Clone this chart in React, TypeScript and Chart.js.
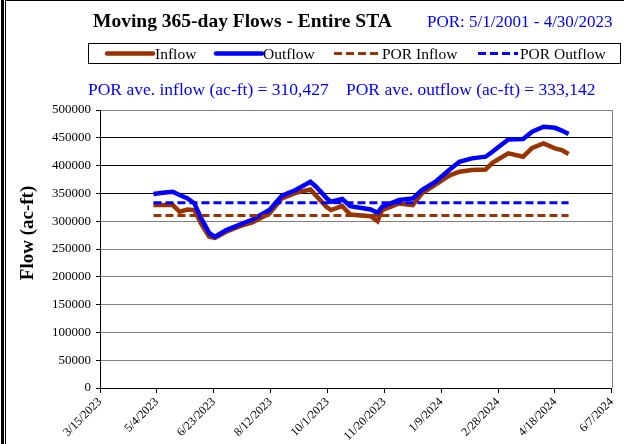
import { useEffect, useRef } from "react";
import { Chart, registerables } from "chart.js";

Chart.register(...registerables);

// ---- data ----
const dates = [
  "5/1/2023", "5/9/2023", "5/18/2023", "5/24/2023", "5/31/2023", "6/6/2023", "6/12/2023",
  "6/19/2023", "6/24/2023", "7/4/2023", "7/16/2023", "7/27/2023", "8/11/2023", "8/22/2023",
  "9/3/2023", "9/16/2023", "9/21/2023", "9/30/2023", "10/4/2023", "10/14/2023", "10/21/2023",
  "11/8/2023", "11/14/2023", "11/18/2023", "12/3/2023", "12/15/2023", "12/23/2023",
  "1/4/2024", "1/16/2024", "1/25/2024", "2/5/2024", "2/17/2024", "2/23/2024", "3/8/2024",
  "3/21/2024", "3/29/2024", "4/8/2024", "4/18/2024", "4/24/2024", "4/30/2024",
];
const inflow = [
  329000, 329000, 329000, 317000, 321000, 320000, 295000,
  272000, 270000, 281000, 291000, 298000, 314000, 341000,
  351000, 357000, 346000, 326000, 320000, 327000, 312000,
  309000, 300000, 320000, 332000, 329000, 350000,
  366000, 382000, 389000, 392000, 393000, 405000, 422000,
  416000, 432000, 440000, 431000, 428000, 421000,
];
const outflow = [
  349000, 351000, 353000, 347000, 341000, 332000, 305000,
  279000, 272000, 284000, 294000, 303000, 320000, 346000,
  356000, 371000, 362000, 342000, 335000, 340000, 327000,
  321000, 315000, 326000, 338000, 341000, 356000,
  371000, 392000, 407000, 413000, 416000, 425000, 447000,
  448000, 461000, 470000, 468000, 463000, 457000,
];
const porDates = ["5/1/2023", "4/30/2024"];
const porInflow = 310427;
const porOutflow = 333142;

const xStartDate = "3/15/2023";
const xStepDays = 50;
const xSteps = 9;
const yMax = 500000;
const yStep = 50000;

const titleText = "Moving 365-day Flows - Entire STA";
const porText = "POR: 5/1/2001 - 4/30/2023";
const subInflow = "POR ave. inflow (ac-ft) = 310,427";
const subOutflow = "POR ave. outflow (ac-ft) = 333,142";
const yTitle = "Flow (ac-ft)";

const BROWN = "#993300";
const BLUE = "#0000FF";
const SERIF = "'Liberation Serif', 'Times New Roman', serif";

function parseDate(s: string) {
  const [m, d, y] = s.split("/").map(Number);
  return Date.UTC(y, m - 1, d);
}
const origin = parseDate(xStartDate);
const DAY = 86400000;
const dayOf = (s: string) => Math.round((parseDate(s) - origin) / DAY);
const dayLabel = (v: number) => {
  const dt = new Date(origin + v * DAY);
  return `${dt.getUTCMonth() + 1}/${dt.getUTCDate()}/${dt.getUTCFullYear()}`;
};

const decorPlugin = {
  id: "decor",
  beforeDraw(chart: any) {
    const ctx = chart.ctx;
    ctx.save();
    ctx.fillStyle = "#fff";
    ctx.fillRect(0, 0, chart.width, chart.height);
    ctx.restore();
  },
  afterDraw(chart: any) {
    const ctx = chart.ctx;
    const area = chart.chartArea;
    ctx.save();
    // right border of plot area
    ctx.strokeStyle = "#808080";
    ctx.lineWidth = 1;
    ctx.beginPath();
    ctx.moveTo(Math.round(area.right) + 0.5, area.top);
    ctx.lineTo(Math.round(area.right) + 0.5, area.bottom);
    ctx.stroke();

    // outer frame
    ctx.fillStyle = "#000";
    ctx.fillRect(1, 0, 3, chart.height);
    ctx.fillRect(5, 0, 1, chart.height);
    ctx.fillRect(5, 0, chart.width, 1);

    // title
    ctx.textBaseline = "alphabetic";
    ctx.textAlign = "left";
    ctx.fillStyle = "#000";
    ctx.font = `bold 19.5px ${SERIF}`;
    ctx.fillText(titleText, 93, 27);
    ctx.fillStyle = BLUE;
    ctx.font = `17px ${SERIF}`;
    ctx.fillText(porText, 427, 27);

    // legend box
    ctx.strokeStyle = "#000";
    ctx.lineWidth = 1;
    ctx.strokeRect(88.5, 43.5, 532, 20);
    const items = [
      { x0: 107, x1: 153, tx: 155 },
      { x0: 216, x1: 262, tx: 263 },
      { x0: 334, x1: 378, tx: 382 },
      { x0: 478, x1: 518, tx: 520 },
    ];
    const ds = chart.data.datasets;
    ctx.font = `15.5px ${SERIF}`;
    items.forEach((it, i) => {
      const d = ds[i];
      ctx.save();
      ctx.strokeStyle = d.borderColor;
      ctx.lineWidth = d.borderDash ? 3 : 4.5;
      ctx.setLineDash(d.borderDash || []);
      ctx.lineCap = d.borderDash ? "butt" : "round";
      ctx.beginPath();
      ctx.moveTo(it.x0, 53.5);
      ctx.lineTo(it.x1, 53.5);
      ctx.stroke();
      ctx.restore();
      ctx.fillStyle = "#000";
      ctx.fillText(d.label, it.tx, 59);
    });

    // subtitle
    ctx.fillStyle = BLUE;
    ctx.font = `17.5px ${SERIF}`;
    ctx.fillText(subInflow, 88, 95);
    ctx.fillText(subOutflow, 346, 95);

    // y axis title
    ctx.save();
    ctx.translate(33, 233);
    ctx.rotate(-Math.PI / 2);
    ctx.textAlign = "center";
    ctx.fillStyle = "#000";
    ctx.font = `bold 19px ${SERIF}`;
    ctx.fillText(yTitle, 0, 0);
    ctx.restore();

    ctx.restore();
  },
};

export default function App() {
  const ref = useRef<HTMLCanvasElement | null>(null);
  useEffect(() => {
    if (!ref.current) return;
    const toPts = (vals: number[]) => dates.map((d, i) => ({ x: dayOf(d), y: vals[i] }));
    const porPts = (v: number) => porDates.map((d) => ({ x: dayOf(d), y: v }));
    const chart = new Chart(ref.current, {
      type: "line",
      data: {
        datasets: [
          {
            label: "Inflow",
            data: toPts(inflow),
            borderColor: BROWN,
            backgroundColor: BROWN,
            borderWidth: 4.5,
            pointRadius: 0,
            tension: 0,
            order: 3,
          },
          {
            label: "Outflow",
            data: toPts(outflow),
            borderColor: BLUE,
            backgroundColor: BLUE,
            borderWidth: 4.5,
            pointRadius: 0,
            tension: 0,
            order: 2,
          },
          {
            label: "POR Inflow",
            data: porPts(porInflow),
            borderColor: BROWN,
            backgroundColor: BROWN,
            borderWidth: 3,
            borderDash: [8, 4],
            pointRadius: 0,
            order: 1,
          },
          {
            label: "POR Outflow",
            data: porPts(porOutflow),
            borderColor: BLUE,
            backgroundColor: BLUE,
            borderWidth: 3,
            borderDash: [8, 4],
            pointRadius: 0,
            order: 0,
          },
        ] as any,
      },
      options: {
        responsive: false,
        animation: false,
        events: [],
        layout: { padding: { left: 8, top: 110, right: 11, bottom: 0 } },
        plugins: { legend: { display: false }, tooltip: { enabled: false } },
        scales: {
          x: {
            type: "linear",
            min: 0,
            max: xStepDays * xSteps,
            afterFit: (s: any) => {
              s.height = 56;
            },
            ticks: {
              stepSize: xStepDays,
              autoSkip: false,
              maxRotation: 45,
              minRotation: 45,
              padding: 2,
              color: "#000",
              font: { family: SERIF, size: 12 },
              callback: (v: any) => dayLabel(Number(v)),
            },
            grid: { drawOnChartArea: false, drawTicks: true, tickLength: 5, color: "#000" },
            border: { color: "#000" },
          },
          y: {
            min: 0,
            max: yMax,
            afterFit: (s: any) => {
              s.width = 92;
            },
            ticks: {
              stepSize: yStep,
              color: "#000",
              padding: 5,
              font: { family: SERIF, size: 13 },
              callback: (v: any) => String(v),
            },
            grid: {
              tickLength: 4,
              tickColor: "#000",
              color: (c: any) => {
                const v = c.tick ? c.tick.value : 0;
                if (v >= 350000 && v < 500000) return "#000";
                return "#808080";
              },
            },
            border: { color: "#000" },
          },
        },
      },
      plugins: [decorPlugin],
    });
    return () => chart.destroy();
  }, []);
  return (
    <div style={{ position: "fixed", left: 0, top: 0, width: 624, height: 444, background: "#fff" }}>
      <canvas ref={ref} width={624} height={444} style={{ display: "block", width: 624, height: 444 }} />
    </div>
  );
}
